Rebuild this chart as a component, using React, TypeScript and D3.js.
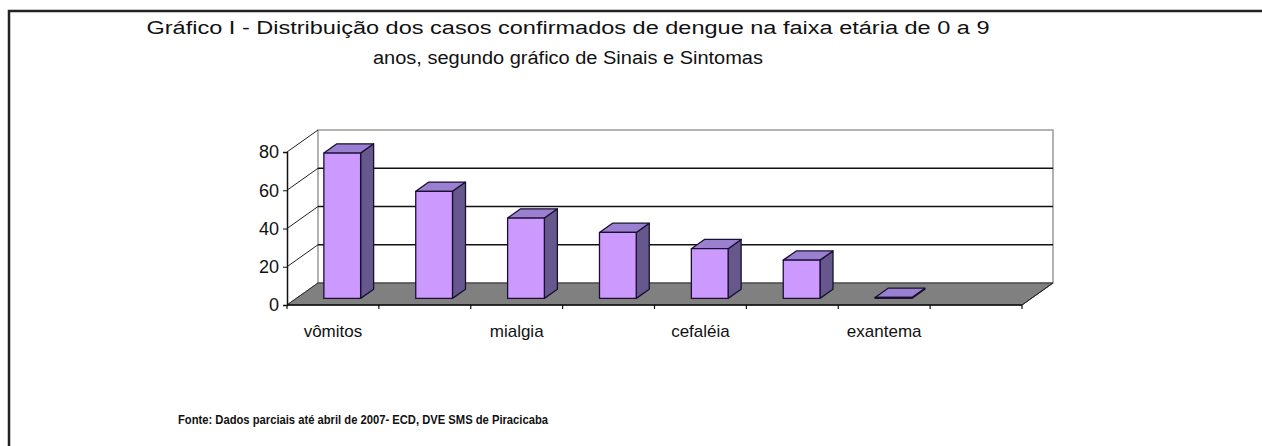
import { useEffect, useRef } from 'react'
import * as d3 from 'd3'

const categories = ['vômitos', 'náuseas', 'mialgia', 'dor abdominal', 'cefaléia', 'prostração', 'exantema', 'artralgia']
const values: (number | null)[] = [76, 56, 42, 34.5, 26, 20, 0.5, null]
const yTicks = [0, 20, 40, 60, 80]
const titleLines = [
  'Gráfico I - Distribuição dos casos confirmados de dengue na faixa etária de 0 a 9',
  'anos, segundo gráfico de Sinais e Sintomas',
]
const sourceNote = 'Fonte: Dados parciais até abril de 2007- ECD, DVE SMS de Piracicaba'

function App() {
  const svgRef = useRef<SVGSVGElement | null>(null)

  useEffect(() => {
    const width = 1262
    const height = 446
    const DX = 31
    const DY = -22
    const font = '"Liberation Sans", Arial, sans-serif'

    const svg = d3.select(svgRef.current)
    svg.selectAll('*').remove()
    svg.attr('width', width).attr('height', height)

    svg.append('rect').attr('width', width).attr('height', height).attr('fill', '#fff')

    // outer frame
    svg.append('path')
      .attr('d', `M9,${height} L9,11 L${width},11`)
      .attr('fill', 'none')
      .attr('stroke', '#222')
      .attr('stroke-width', 2.5)

    // title
    const titleWidths = [843, 390]
    titleLines.forEach((t, i) => {
      svg.append('text')
        .attr('x', 568)
        .attr('y', 34 + i * 30)
        .attr('text-anchor', 'middle')
        .attr('font-family', font)
        .attr('font-size', '18px')
        .attr('fill', '#111')
        .attr('textLength', titleWidths[i])
        .attr('lengthAdjust', 'spacingAndGlyphs')
        .text(t)
    })

    const x = d3.scaleBand<string>().domain(categories).range([287, 1022]).paddingInner(0).paddingOuter(0)
    const y = d3.scaleLinear().domain([0, 80]).range([305, 152])
    const x0 = 287
    const x1 = 1022

    // back wall
    svg.append('rect')
      .attr('x', x0 + DX)
      .attr('y', y(80) + DY)
      .attr('width', x1 - x0)
      .attr('height', y(0) - y(80))
      .attr('fill', '#fff')
      .attr('stroke', '#9a9a9a')
      .attr('stroke-width', 1.5)

    // gridlines on the back wall + left side diagonals
    yTicks.forEach(t => {
      if (t > 0 && t < 80) {
        svg.append('line')
          .attr('x1', x0 + DX).attr('x2', x1 + DX)
          .attr('y1', y(t) + DY).attr('y2', y(t) + DY)
          .attr('stroke', '#111').attr('stroke-width', 1.5)
      }
      svg.append('line')
        .attr('x1', x0).attr('x2', x0 + DX)
        .attr('y1', y(t)).attr('y2', y(t) + DY)
        .attr('stroke', '#222').attr('stroke-width', 1)
    })

    // floor
    svg.append('path')
      .attr('d', `M${x0},${y(0)} L${x0 + DX},${y(0) + DY} L${x1 + DX},${y(0) + DY} L${x1},${y(0)} Z`)
      .attr('fill', '#808080')
      .attr('stroke', '#333')
      .attr('stroke-width', 1)

    // bars
    const t0 = 0.3
    const t1 = 0.72
    const bw = x.bandwidth()
    categories.forEach((c, i) => {
      const v = values[i]
      if (v == null) return
      const bx0 = (x(c) as number) + bw * 0.3
      const bx1 = (x(c) as number) + bw * 0.7
      const fx = t0 * DX, fy = t0 * DY
      const bxs = t1 * DX, bys = t1 * DY
      const yt = y(v), yb = y(0)
      const g = svg.append('g').attr('stroke', '#1a1030').attr('stroke-width', 1.3).attr('stroke-linejoin', 'round')
      // side
      g.append('path')
        .attr('d', `M${bx1 + fx},${yb + fy} L${bx1 + bxs},${yb + bys} L${bx1 + bxs},${yt + bys} L${bx1 + fx},${yt + fy} Z`)
        .attr('fill', '#66588c')
      // top
      g.append('path')
        .attr('d', `M${bx0 + fx},${yt + fy} L${bx0 + bxs},${yt + bys} L${bx1 + bxs},${yt + bys} L${bx1 + fx},${yt + fy} Z`)
        .attr('fill', '#9b7fd0')
      // front
      g.append('path')
        .attr('d', `M${bx0 + fx},${yb + fy} L${bx0 + fx},${yt + fy} L${bx1 + fx},${yt + fy} L${bx1 + fx},${yb + fy} Z`)
        .attr('fill', '#cc99ff')
    })

    // value axis (front)
    const yAxis = d3.axisLeft(y).tickValues(yTicks).tickSize(4).tickPadding(4)
    svg.append('g')
      .attr('transform', `translate(${x0},0)`)
      .call(yAxis)
      .call(ax => ax.select('.domain').attr('stroke', '#111').attr('stroke-width', 1.5))
      .call(ax => ax.selectAll('line').attr('stroke', '#111'))
      .call(ax => ax.selectAll('text').attr('fill', '#111').attr('font-size', '18px').attr('font-family', font))

    // category axis
    svg.append('line')
      .attr('x1', x0).attr('x2', x1)
      .attr('y1', y(0)).attr('y2', y(0))
      .attr('stroke', '#111').attr('stroke-width', 1.5)
    svg.append('line')
      .attr('x1', x1).attr('x2', x1 + DX)
      .attr('y1', y(0)).attr('y2', y(0) + DY)
      .attr('stroke', '#222').attr('stroke-width', 1)
    const edges = categories.map(c => x(c) as number).concat([x1])
    edges.forEach(e => {
      svg.append('line')
        .attr('x1', e).attr('x2', e)
        .attr('y1', y(0)).attr('y2', y(0) + 4)
        .attr('stroke', '#111').attr('stroke-width', 1.2)
    })
    categories.forEach((c, i) => {
      if (i % 2 !== 0) return
      svg.append('text')
        .attr('x', (x(c) as number) + bw / 2)
        .attr('y', 337)
        .attr('text-anchor', 'middle')
        .attr('font-family', font)
        .attr('font-size', '17px')
        .attr('fill', '#111')
        .text(c)
    })

    // source
    svg.append('text')
      .attr('x', 178)
      .attr('y', 424)
      .attr('font-family', font)
      .attr('font-size', '12px')
      .attr('font-weight', 'bold')
      .attr('fill', '#111')
      .attr('textLength', 370)
      .attr('lengthAdjust', 'spacingAndGlyphs')
      .text(sourceNote)
  }, [])

  return <svg ref={svgRef} style={{ position: 'absolute', left: 0, top: 0 }} />
}

export default App
